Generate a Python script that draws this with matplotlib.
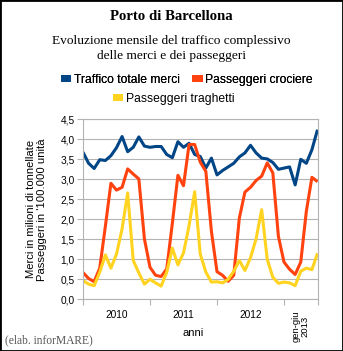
import matplotlib
matplotlib.use("Agg")
import matplotlib.pyplot as plt
from matplotlib.patches import Patch, Rectangle
import numpy as np

# ---- data (monthly) ----
merci = [3.68, 3.40, 3.27, 3.49, 3.47, 3.59, 3.79, 4.07, 3.69, 3.80, 4.06, 3.83,
         3.80, 3.82, 3.82, 3.62, 3.54, 3.94, 3.80, 3.90, 3.62, 3.57, 3.28, 3.53,
         3.11, 3.22, 3.31, 3.40, 3.56, 3.66, 3.85, 3.66, 3.53, 3.51, 3.42, 3.25,
         3.28, 3.31, 2.86, 3.50, 3.40, 3.74, 4.24]
crociere = [0.67, 0.52, 0.44, 0.78, 1.82, 2.90, 2.73, 2.80, 3.26, 3.13, 3.01, 1.51,
            0.80, 0.60, 0.57, 0.76, 1.90, 3.10, 2.84, 3.87, 3.87, 3.43, 3.20, 1.70,
            0.69, 0.60, 0.45, 0.60, 2.03, 2.68, 2.80, 2.97, 3.08, 3.41, 3.16, 1.57,
            0.93, 0.75, 0.62, 0.93, 2.20, 3.05, 2.94]
traghetti = [0.47, 0.38, 0.34, 0.68, 1.11, 0.78, 1.13, 1.76, 2.66, 0.97, 0.66, 0.38,
             0.50, 0.41, 0.33, 0.68, 1.28, 0.86, 1.16, 1.84, 2.69, 1.13, 0.68, 0.43,
             0.44, 0.41, 0.50, 0.70, 0.97, 0.72, 1.04, 1.51, 2.24, 1.00, 0.55, 0.40,
             0.43, 0.41, 0.34, 0.70, 0.78, 0.74, 1.15]
series_names = ["Traffico totale merci", "Passeggeri crociere", "Passeggeri traghetti"]
year_labels = ["2010", "2011", "2012", "gen-giu\n2013"]
year_label_pos = [6, 18, 30, 39]
year_bounds = [0, 12, 24, 36, 42]
yticks = [0.0, 0.5, 1.0, 1.5, 2.0, 2.5, 3.0, 3.5, 4.0, 4.5]
ytick_labels = ["0,0", "0,5", "1,0", "1,5", "2,0", "2,5", "3,0", "3,5", "4,0", "4,5"]

colors = ["#004586", "#ff420e", "#ffd320"]
GRID = "#b3b3b3"
SANS = "Liberation Sans"
SERIF = "Liberation Serif"
plt.rcParams["font.family"] = [SANS, "DejaVu Sans"]

W, H = 343, 351
fig = plt.figure(figsize=(W / 100, H / 100), dpi=100)
fig.patch.set_facecolor("white")

L, R, T, B = 83, 317.5, 119.3, 299.3
ax = fig.add_axes([L / W, 1 - B / H, (R - L) / W, (B - T) / H])

x = np.arange(len(merci))
for vals, c in zip([merci, crociere, traghetti], colors):
    ax.plot(x, vals, color=c, lw=2.2, solid_joinstyle="round", solid_capstyle="butt")

ax.set_xlim(0, 42)
ax.set_ylim(0, 4.5)
ax.set_yticks(yticks)
ax.set_yticklabels(ytick_labels, fontsize=7.3, fontfamily=SANS)
ax.yaxis.grid(True, color=GRID, lw=0.8)
ax.set_axisbelow(True)
for s in ax.spines.values():
    s.set_color(GRID)
    s.set_linewidth(0.8)

ax.set_xticks(year_bounds)
ax.set_xticklabels([])
ax.set_xticks(year_label_pos, minor=True)
ax.set_xticklabels(year_labels, minor=True, fontsize=7.3, fontfamily=SANS)
ax.tick_params(axis="x", which="major", length=4.3, width=0.8, color=GRID, direction="out")
ax.tick_params(axis="x", which="minor", length=0, pad=8)
ax.tick_params(axis="y", length=4.0, width=0.8, color=GRID, direction="out", pad=2)
lbl = ax.get_xticklabels(minor=True)[3]
lbl.set_rotation(90)
lbl.set_linespacing(0.95)
lbl.set_fontsize(6.8)

# titles
fig.text(0.5, 1 - 17 / H, "Porto di Barcellona", ha="center", va="center",
         fontfamily=SERIF, fontweight="bold", fontsize=10.6)
fig.text(0.5, 1 - 48.5 / H, "Evoluzione mensile del traffico complessivo\ndelle merci e dei passeggeri",
         ha="center", va="center", fontfamily=SERIF, fontsize=9.6, linespacing=1.35)

# legend
handles = [Patch(facecolor=c, edgecolor="none") for c in colors]
lp = {"family": SANS, "size": 8.7}
leg1 = fig.legend(handles[:2], series_names[:2], loc="center left",
                  bbox_to_anchor=(61 / W, 1 - 80 / H), ncol=2, frameon=False,
                  prop=lp, handlelength=0.85, handleheight=0.5,
                  handletextpad=0.2, columnspacing=1.05, borderpad=0, borderaxespad=0)
fig.add_artist(leg1)
leg2 = fig.legend(handles[2:], series_names[2:], loc="center left",
                  bbox_to_anchor=(113 / W, 1 - 99 / H), frameon=False,
                  prop=lp, handlelength=0.85, handleheight=0.5,
                  handletextpad=0.2, borderpad=0, borderaxespad=0)

# axis titles
fig.text(36.5 / W, 1 - 209.3 / H, "Merci in milioni di tonnellate\nPasseggeri in '100.000 unità",
         rotation=90, ha="center", va="center", multialignment="center",
         fontsize=8.1, linespacing=1.15, fontfamily=SANS)
fig.text(193.5 / W, 1 - 333 / H, "anni", ha="center", va="center", fontsize=8.1, fontfamily=SANS)
fig.text(5 / W, 1 - 340 / H, "(elab. inforMARE)", ha="left", va="center",
         fontfamily=SERIF, fontsize=8.3, color="#555555")

# outer border
fig.add_artist(Rectangle((0, 0), 1, 1, transform=fig.transFigure, fill=False,
                         edgecolor="black", lw=2.0, clip_on=False))

fig.savefig("out.png", dpi=100)
